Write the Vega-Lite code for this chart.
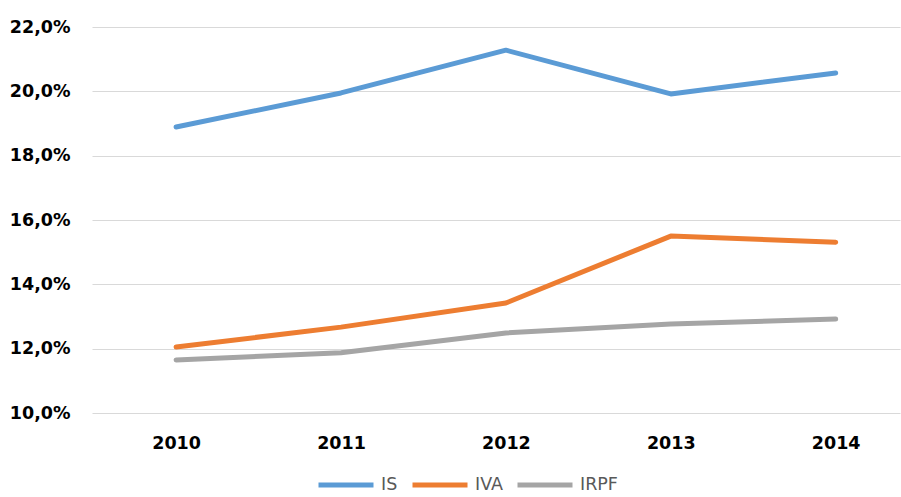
{
  "$schema": "https://vega.github.io/schema/vega-lite/v6.json",
  "width": 808,
  "height": 386,
  "autosize": "none",
  "padding": {"left": 92, "top": 27, "right": 1, "bottom": 84},
  "background": "white",
  "config": {
    "locale": {"number": {"decimal": ",", "thousands": ".", "grouping": [3], "currency": ["", " €"]}},
    "view": {"stroke": null},
    "font": "DejaVu Sans"
  },
  "data": {
    "values": [
      {"year": 2010, "series": "IS", "value": 0.1889},
      {"year": 2011, "series": "IS", "value": 0.1995},
      {"year": 2012, "series": "IS", "value": 0.2128},
      {"year": 2013, "series": "IS", "value": 0.1992},
      {"year": 2014, "series": "IS", "value": 0.2057},
      {"year": 2010, "series": "IVA", "value": 0.1205},
      {"year": 2011, "series": "IVA", "value": 0.1267},
      {"year": 2012, "series": "IVA", "value": 0.1342},
      {"year": 2013, "series": "IVA", "value": 0.1550},
      {"year": 2014, "series": "IVA", "value": 0.1531},
      {"year": 2010, "series": "IRPF", "value": 0.1165},
      {"year": 2011, "series": "IRPF", "value": 0.1187},
      {"year": 2012, "series": "IRPF", "value": 0.1249},
      {"year": 2013, "series": "IRPF", "value": 0.1277},
      {"year": 2014, "series": "IRPF", "value": 0.1292}
    ]
  },
  "mark": {"type": "line", "strokeWidth": 5, "strokeCap": "round", "strokeJoin": "round"},
  "encoding": {
    "x": {
      "field": "year",
      "type": "quantitative",
      "scale": {"domain": [2009.49, 2014.39], "nice": false, "zero": false},
      "axis": {
        "title": null,
        "values": [2010, 2011, 2012, 2013, 2014],
        "format": "d",
        "grid": false,
        "domain": false,
        "ticks": false,
        "labelFontSize": 17.5,
        "labelFontWeight": "bold",
        "labelColor": "#000000",
        "labelPadding": 21,
        "labelFlush": false
      }
    },
    "y": {
      "field": "value",
      "type": "quantitative",
      "scale": {"domain": [0.10, 0.22], "nice": false, "zero": false},
      "axis": {
        "title": null,
        "values": [0.10, 0.12, 0.14, 0.16, 0.18, 0.20, 0.22],
        "format": ".1%",
        "grid": true,
        "gridColor": "#D9D9D9",
        "gridWidth": 1.2,
        "domain": false,
        "ticks": false,
        "labelFontSize": 17.5,
        "labelFontWeight": "bold",
        "labelColor": "#000000",
        "labelPadding": 22
      }
    },
    "color": {
      "field": "series",
      "type": "nominal",
      "sort": ["IS", "IVA", "IRPF"],
      "scale": {"domain": ["IS", "IVA", "IRPF"], "range": ["#5B9BD5", "#ED7D31", "#A5A5A5"]},
      "legend": {
        "title": null,
        "orient": "none",
        "direction": "horizontal",
        "legendX": 224,
        "legendY": 428,
        "symbolType": "stroke",
        "symbolSize": 3025,
        "symbolStrokeWidth": 5,
        "labelFontSize": 17.5,
        "labelColor": "#595959",
        "labelOffset": 5,
        "columnPadding": 4
      }
    }
  }
}
